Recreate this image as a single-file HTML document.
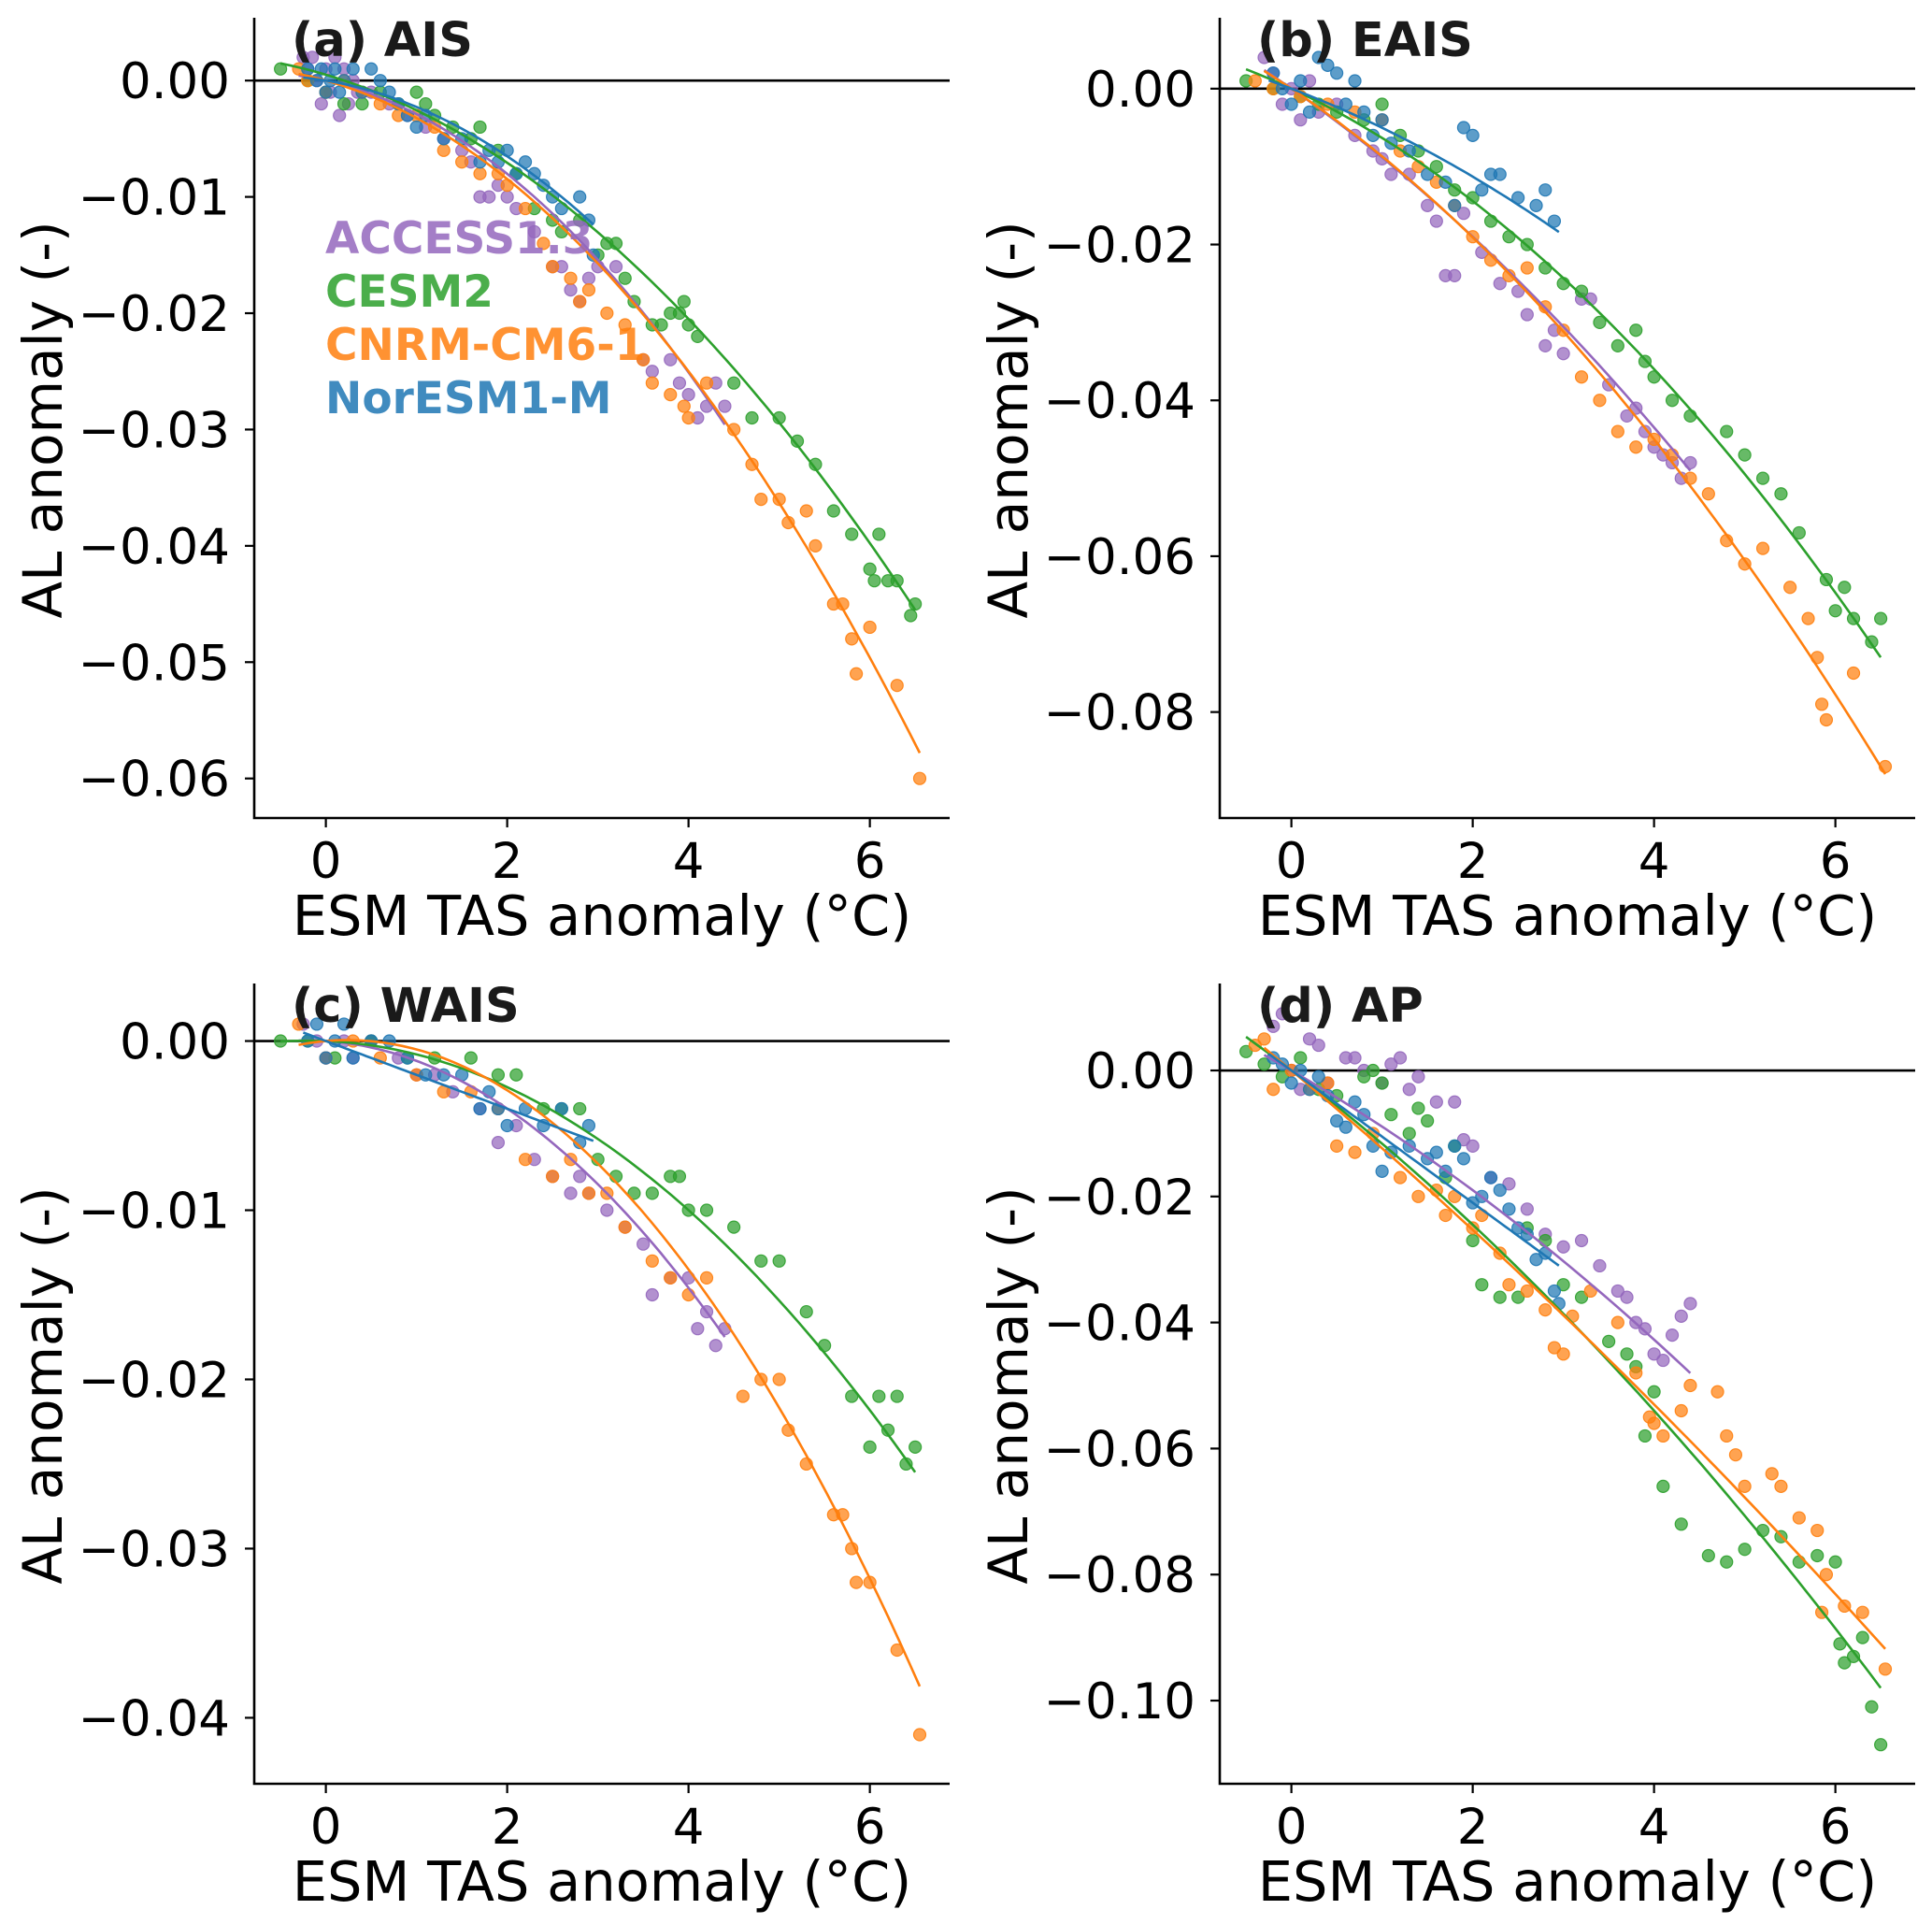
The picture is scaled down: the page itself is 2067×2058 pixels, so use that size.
<!DOCTYPE html>
<html><head><meta charset="utf-8"><style>
html,body{margin:0;padding:0;background:#fff;}
svg{display:block;font-family:"DejaVu Sans","Liberation Sans",sans-serif;}
</style></head><body>
<svg id="fig" width="2067" height="2058" viewBox="0 0 2067 2058" xmlns="http://www.w3.org/2000/svg"></svg>
<script>
const models = ["ACCESS1.3","CESM2","CNRM-CM6-1","NorESM1-M"];
const colors = ["#9467bd","#2ca02c","#ff7f0e","#1f77b4"];
const panelTitles = ["(a) AIS","(b) EAIS","(c) WAIS","(d) AP"];
const xTicks = [0,2,4,6];
const yTicksA = [0,-0.01,-0.02,-0.03,-0.04,-0.05,-0.06];
const yTicksB = [0,-0.02,-0.04,-0.06,-0.08];
const yTicksC = [0,-0.01,-0.02,-0.03,-0.04];
const yTicksD = [0,-0.02,-0.04,-0.06,-0.08,-0.10];
const yDecimals = [2,2,2,2];

// Panel a data
const aAccX=[-0.25,-0.2,-0.15,-0.1,-0.05,0,0.05,0.1,0.15,0.2,0.25,0.3,0.35,0.5,0.7,0.9,1.1,1.3,1.5,1.6,1.7,1.8,1.9,2.0,2.1,2.3,2.5,2.6,2.8,2.9,3.0,3.2,3.5,3.6,3.8,3.9,4.0,4.1,4.2,4.3,4.4,2.7];
const aAccY=[0.002,0.001,0.002,0.0,-0.002,0.001,-0.001,0.002,-0.003,0.001,-0.002,0.0,-0.001,-0.001,-0.002,-0.003,-0.004,-0.005,-0.006,-0.007,-0.01,-0.01,-0.009,-0.01,-0.011,-0.013,-0.016,-0.016,-0.019,-0.017,-0.016,-0.016,-0.024,-0.025,-0.024,-0.026,-0.027,-0.029,-0.028,-0.026,-0.028,-0.018];
const aCesX=[-0.5,-0.2,0,0.2,0.4,0.6,0.8,1.0,1.1,1.2,1.4,1.6,1.7,1.9,2.1,2.3,2.5,2.6,2.8,3.0,3.1,3.2,3.3,3.4,3.6,3.7,3.8,3.9,3.95,4.0,4.1,4.5,4.7,5.0,5.2,5.4,5.6,5.8,6.0,6.05,6.1,6.2,6.3,6.45,6.5];
const aCesY=[0.001,0.0,-0.001,-0.002,-0.002,-0.001,-0.002,-0.001,-0.002,-0.003,-0.004,-0.005,-0.004,-0.006,-0.008,-0.011,-0.012,-0.013,-0.012,-0.015,-0.014,-0.014,-0.017,-0.019,-0.021,-0.021,-0.020,-0.020,-0.019,-0.021,-0.022,-0.026,-0.029,-0.029,-0.031,-0.033,-0.037,-0.039,-0.042,-0.043,-0.039,-0.043,-0.043,-0.046,-0.045];
const aCnrX=[-0.3,-0.2,0,0.2,0.4,0.6,0.8,1.0,1.2,1.3,1.5,1.7,1.9,2.0,2.2,2.4,2.5,2.7,2.8,2.9,3.1,3.3,3.5,3.6,3.8,3.95,4.0,4.2,4.5,4.7,4.8,5.0,5.1,5.3,5.4,5.6,5.7,5.8,5.85,6.0,6.3,6.55];
const aCnrY=[0.001,0.0,-0.001,0.0,-0.001,-0.002,-0.003,-0.003,-0.004,-0.006,-0.007,-0.008,-0.008,-0.009,-0.011,-0.014,-0.016,-0.017,-0.019,-0.018,-0.020,-0.021,-0.024,-0.026,-0.027,-0.028,-0.029,-0.026,-0.030,-0.033,-0.036,-0.036,-0.038,-0.037,-0.040,-0.045,-0.045,-0.048,-0.051,-0.047,-0.052,-0.060];
const aNorX=[-0.2,-0.1,-0.05,0,0.05,0.1,0.15,0.2,0.3,0.4,0.5,0.6,0.7,0.8,0.9,1.0,1.1,1.3,1.5,1.7,1.8,1.9,2.0,2.1,2.2,2.3,2.4,2.5,2.6,2.8,2.9,2.95];
const aNorY=[0.001,0.0,0.001,-0.001,0.0,0.001,-0.001,0.0,0.001,-0.001,0.001,0.0,-0.001,-0.002,-0.003,-0.004,-0.003,-0.005,-0.005,-0.007,-0.006,-0.007,-0.006,-0.008,-0.007,-0.008,-0.009,-0.010,-0.011,-0.010,-0.012,-0.015];

// Panel b data
const bAccX=[-0.3,-0.2,-0.1,0,0.1,0.2,0.3,0.5,0.7,0.9,1.0,1.1,1.3,1.5,1.6,1.7,1.8,1.9,2.1,2.3,2.5,2.6,2.8,2.9,3.0,3.2,3.3,3.5,3.7,3.9,4.0,4.1,4.2,4.3,4.4,3.8];
const bAccY=[0.004,0.002,-0.002,0.0,-0.004,0.001,-0.003,-0.002,-0.006,-0.008,-0.009,-0.011,-0.011,-0.015,-0.017,-0.024,-0.024,-0.016,-0.021,-0.025,-0.026,-0.029,-0.033,-0.031,-0.034,-0.027,-0.027,-0.038,-0.042,-0.044,-0.046,-0.047,-0.048,-0.050,-0.048,-0.041];
const bCesX=[-0.5,-0.2,0.1,0.3,0.5,0.8,1.0,1.2,1.4,1.6,1.8,2.0,2.2,2.4,2.6,2.8,3.0,3.2,3.4,3.6,3.8,3.9,4.0,4.2,4.4,4.8,5.0,5.2,5.4,5.6,5.9,6.0,6.1,6.2,6.4,6.5];
const bCesY=[0.001,0.0,-0.001,-0.002,-0.003,-0.004,-0.002,-0.006,-0.008,-0.010,-0.013,-0.014,-0.017,-0.019,-0.020,-0.023,-0.025,-0.026,-0.030,-0.033,-0.031,-0.035,-0.037,-0.040,-0.042,-0.044,-0.047,-0.050,-0.052,-0.057,-0.063,-0.067,-0.064,-0.068,-0.071,-0.068];
const bCnrX=[-0.4,-0.2,0.1,0.4,0.7,1.0,1.2,1.4,1.6,1.8,2.0,2.2,2.4,2.6,2.8,3.0,3.2,3.4,3.6,3.8,4.0,4.2,4.4,4.6,4.8,5.0,5.2,5.5,5.7,5.8,5.85,5.9,6.2,6.55];
const bCnrY=[0.001,0.0,-0.001,-0.002,-0.003,-0.004,-0.008,-0.010,-0.012,-0.015,-0.019,-0.022,-0.024,-0.023,-0.028,-0.031,-0.037,-0.040,-0.044,-0.046,-0.045,-0.047,-0.050,-0.052,-0.058,-0.061,-0.059,-0.064,-0.068,-0.073,-0.079,-0.081,-0.075,-0.087];
const bNorX=[-0.2,-0.1,0,0.1,0.2,0.3,0.4,0.5,0.6,0.7,0.8,0.9,1.0,1.1,1.3,1.5,1.7,1.8,1.9,2.0,2.1,2.2,2.3,2.5,2.7,2.8,2.9];
const bNorY=[0.002,0.0,-0.002,0.001,-0.003,0.004,0.003,0.002,-0.002,0.001,-0.003,-0.006,-0.004,-0.007,-0.008,-0.011,-0.012,-0.015,-0.005,-0.006,-0.013,-0.011,-0.011,-0.014,-0.015,-0.013,-0.017];

// Panel c data
const cAccX=[-0.25,-0.1,0,0.2,0.3,0.5,0.8,1.0,1.2,1.4,1.7,1.9,2.1,2.3,2.5,2.7,2.9,3.1,3.3,3.5,3.6,3.8,4.0,4.1,4.2,4.3,4.4,2.8];
const cAccY=[0.001,0.0,-0.001,0.0,-0.001,0.0,-0.001,-0.002,-0.002,-0.003,-0.004,-0.006,-0.005,-0.007,-0.008,-0.009,-0.009,-0.010,-0.011,-0.012,-0.015,-0.014,-0.014,-0.017,-0.016,-0.018,-0.017,-0.008];
const cCesX=[-0.5,-0.2,0.1,0.5,0.9,1.2,1.6,1.9,2.1,2.4,2.6,2.8,3.0,3.2,3.4,3.6,3.8,3.9,4.0,4.2,4.5,4.8,5.0,5.3,5.5,5.8,6.0,6.1,6.2,6.3,6.4,6.5];
const cCesY=[0.0,0.0,-0.001,0.0,-0.001,-0.001,-0.001,-0.002,-0.002,-0.004,-0.004,-0.004,-0.007,-0.008,-0.009,-0.009,-0.008,-0.008,-0.010,-0.010,-0.011,-0.013,-0.013,-0.016,-0.018,-0.021,-0.024,-0.021,-0.023,-0.021,-0.025,-0.024];
const cCnrX=[-0.3,0,0.3,0.6,1.0,1.3,1.6,1.9,2.2,2.5,2.7,2.9,3.1,3.3,3.6,3.8,4.0,4.2,4.6,4.8,5.0,5.1,5.3,5.6,5.7,5.8,5.85,6.0,6.3,6.55];
const cCnrY=[0.001,-0.001,0.0,-0.001,-0.002,-0.003,-0.003,-0.004,-0.007,-0.008,-0.007,-0.009,-0.009,-0.011,-0.013,-0.014,-0.015,-0.014,-0.021,-0.020,-0.020,-0.023,-0.025,-0.028,-0.028,-0.030,-0.032,-0.032,-0.036,-0.041];
const cNorX=[-0.2,-0.1,0,0.1,0.2,0.3,0.5,0.7,0.9,1.1,1.3,1.5,1.7,1.9,2.0,2.2,2.4,2.6,2.8,2.9,1.8];
const cNorY=[0.0,0.001,-0.001,0.0,0.001,-0.001,0.0,0.0,-0.001,-0.002,-0.002,-0.002,-0.004,-0.004,-0.005,-0.004,-0.005,-0.004,-0.006,-0.005,-0.003];

// Panel d data
const dAccX=[-0.2,-0.1,0,0.1,0.2,0.3,0.4,0.6,0.7,0.8,1.0,1.1,1.2,1.3,1.4,1.6,1.8,1.9,2.0,2.2,2.4,2.6,2.8,3.0,3.2,3.4,3.6,3.7,3.8,3.9,4.0,4.1,4.2,4.3,4.4];
const dAccY=[0.007,0.009,0.0,-0.003,0.005,0.004,-0.002,0.002,0.002,0.0,-0.002,0.001,0.002,-0.003,-0.001,-0.005,-0.005,-0.011,-0.012,-0.017,-0.018,-0.022,-0.026,-0.028,-0.027,-0.031,-0.035,-0.036,-0.040,-0.041,-0.045,-0.046,-0.042,-0.039,-0.037];
const dCesX=[-0.5,-0.3,-0.1,0.1,0.3,0.5,0.8,0.9,1.0,1.1,1.3,1.4,1.5,1.7,1.8,2.0,2.1,2.3,2.5,2.6,2.8,3.0,3.2,3.5,3.7,3.8,3.9,4.0,4.1,4.3,4.6,4.8,5.0,5.2,5.4,5.6,5.8,6.0,6.05,6.1,6.2,6.3,6.4,6.5];
const dCesY=[0.003,0.001,-0.001,0.002,-0.003,-0.004,-0.001,0.0,-0.002,-0.007,-0.010,-0.006,-0.008,-0.017,-0.012,-0.027,-0.034,-0.036,-0.036,-0.025,-0.027,-0.034,-0.036,-0.043,-0.045,-0.047,-0.058,-0.051,-0.066,-0.072,-0.077,-0.078,-0.076,-0.073,-0.074,-0.078,-0.077,-0.078,-0.091,-0.094,-0.093,-0.090,-0.101,-0.107];
const dCnrX=[-0.4,-0.3,-0.2,0,0.2,0.4,0.5,0.7,0.9,1.2,1.4,1.6,1.7,1.8,2.0,2.1,2.3,2.4,2.6,2.8,2.9,3.0,3.1,3.3,3.6,3.8,3.95,4.0,4.1,4.3,4.4,4.7,4.8,4.9,5.0,5.3,5.4,5.6,5.8,5.85,5.9,6.1,6.3,6.55];
const dCnrY=[0.004,0.005,-0.003,0.0,-0.003,-0.002,-0.012,-0.013,-0.010,-0.017,-0.020,-0.019,-0.023,-0.020,-0.025,-0.023,-0.029,-0.034,-0.035,-0.038,-0.044,-0.045,-0.039,-0.035,-0.040,-0.048,-0.055,-0.056,-0.058,-0.054,-0.050,-0.051,-0.058,-0.061,-0.066,-0.064,-0.066,-0.071,-0.073,-0.086,-0.080,-0.085,-0.086,-0.095];
const dNorX=[-0.2,-0.1,0,0.1,0.2,0.3,0.4,0.5,0.6,0.7,0.8,0.9,1.0,1.1,1.3,1.5,1.6,1.7,1.8,1.9,2.0,2.1,2.2,2.3,2.4,2.5,2.6,2.7,2.8,2.9,2.95];
const dNorY=[0.002,0.001,-0.002,0.0,-0.003,-0.001,-0.004,-0.008,-0.009,-0.005,-0.007,-0.012,-0.016,-0.013,-0.012,-0.014,-0.013,-0.016,-0.012,-0.014,-0.021,-0.020,-0.017,-0.019,-0.022,-0.025,-0.026,-0.030,-0.029,-0.035,-0.037];

// Quadratic fit coefficients [c0, c1, c2] and x-range per model, per panel
const aFits=[[0,-0.00175,-0.00113],[0.0005,-0.00232,-0.000732],[0,-0.00221,-0.00101],[0,-0.00128,-0.000987]];
const bFits=[[0,-0.00814,-0.000682],[0,-0.00543,-0.000892],[0,-0.00783,-0.000855],[0,-0.0044,-0.000623]];
const cFits=[[0,-0.00035,-0.000824],[0,-0.000223,-0.000569],[0,0.000465,-0.00096],[0,-0.002,0]];
const dFits=[[0,-0.00833,-0.000587],[0,-0.01098,-0.00063],[0,-0.01205,-0.0003],[0,-0.0105,0]];
const fitRanges=[[-0.3,4.4],[-0.5,6.5],[-0.3,6.55],[-0.25,2.95]];

const panels=[
 {ox:0,oy:0,yMin:-0.0634,yMax:0.0054,yTicks:yTicksA,xs:[aAccX,aCesX,aCnrX,aNorX],ys:[aAccY,aCesY,aCnrY,aNorY],fits:aFits,legend:true},
 {ox:1033,oy:0,yMin:-0.0936,yMax:0.0091,yTicks:yTicksB,xs:[bAccX,bCesX,bCnrX,bNorX],ys:[bAccY,bCesY,bCnrY,bNorY],fits:bFits},
 {ox:0,oy:1033,yMin:-0.0439,yMax:0.0034,yTicks:yTicksC,xs:[cAccX,cCesX,cCnrX,cNorX],ys:[cAccY,cCesY,cCnrY,cNorY],fits:cFits},
 {ox:1033,oy:1033,yMin:-0.1132,yMax:0.0138,yTicks:yTicksD,xs:[dAccX,dCesX,dCnrX,dNorX],ys:[dAccY,dCesY,dCnrY,dNorY],fits:dFits}
];
const NS="http://www.w3.org/2000/svg";
const svg=document.getElementById('fig');
function mk(tag,attrs,parent){const e=document.createElementNS(NS,tag);for(const k in attrs)e.setAttribute(k,attrs[k]);(parent||svg).appendChild(e);return e;}
const xMin=-0.79,xMax=6.88;
panels.forEach((p,pi)=>{
  const L=p.ox+272,R=p.ox+1016,T=p.oy+19,B=p.oy+875;
  const sx=v=>L+(v-xMin)/(xMax-xMin)*(R-L);
  const sy=v=>B-(v-p.yMin)/(p.yMax-p.yMin)*(B-T);
  const g=mk('g',{});
  
  
  const z=mk('line',{x1:L,x2:R,y1:sy(0),y2:sy(0),stroke:'#000','stroke-width':2.6},g);
  
  
  p.xs.forEach((xs,mi)=>{
    const sg=mk('g',{fill:colors[mi],'fill-opacity':0.72,stroke:colors[mi],'stroke-opacity':0.9,'stroke-width':1.2},g);
    
    
    xs.forEach((x,i)=>{
      const c=mk('circle',{cx:sx(x),cy:sy(p.ys[mi][i]),r:6.5},sg);
      
      
    });
  });
  p.fits.forEach((f,mi)=>{
    const r=fitRanges[mi];let d='';
    for(let k=0;k<=60;k++){const x=r[0]+(r[1]-r[0])*k/60;const y=f[0]+f[1]*x+f[2]*x*x;d+=(k?'L':'M')+sx(x).toFixed(1)+','+sy(y).toFixed(1);}
    const pl=mk('path',{d:d,fill:'none',stroke:colors[mi],'stroke-width':2.6},g);
    
    
  });
  const ax=mk('path',{d:`M${L},${T}L${L},${B}L${R},${B}`,fill:'none',stroke:'#000','stroke-width':2.6},g);
  
  
  xTicks.forEach(t=>{
    mk('line',{x1:sx(t),x2:sx(t),y1:B,y2:B+10,stroke:'#000','stroke-width':2.2},g);
    const tx=mk('text',{x:sx(t),y:B+64,'font-size':53,'text-anchor':'middle',fill:'#000'},g);
    tx.textContent=String(t);
    
    
  });
  p.yTicks.forEach(t=>{
    mk('line',{x1:L-10,x2:L,y1:sy(t),y2:sy(t),stroke:'#000','stroke-width':2.2},g);
    const tx=mk('text',{x:L-26,y:sy(t)+19,'font-size':53,'text-anchor':'end',fill:'#000'},g);
    tx.textContent=(t<0?'\u2212':'')+Math.abs(t).toFixed(yDecimals[pi]);
    
    
  });
  const xl=mk('text',{x:(L+R)/2,y:p.oy+1000,'font-size':59,'text-anchor':'middle',fill:'#000'},g);
  xl.textContent='ESM TAS anomaly (°C)';
  
  
  const yl=mk('text',{x:0,y:0,'font-size':58,'text-anchor':'middle',fill:'#000',transform:`translate(${p.ox+66},${(T+B)/2+2}) rotate(-90)`},g);
  yl.textContent='AL anomaly (-)';
  
  
  const ti=mk('text',{x:L+40,y:p.oy+60,'font-size':51,'font-weight':'bold',fill:'#1a1a1a'},g);
  ti.textContent=panelTitles[pi];
  
  
  if(p.legend){
    models.forEach((m,mi)=>{
      const lt=mk('text',{x:348,y:271+mi*57,'font-size':47,'font-weight':'bold',fill:colors[mi],'fill-opacity':0.85},g);
      lt.textContent=m;
      
      
    });
  }
});
</script>
</body></html>
